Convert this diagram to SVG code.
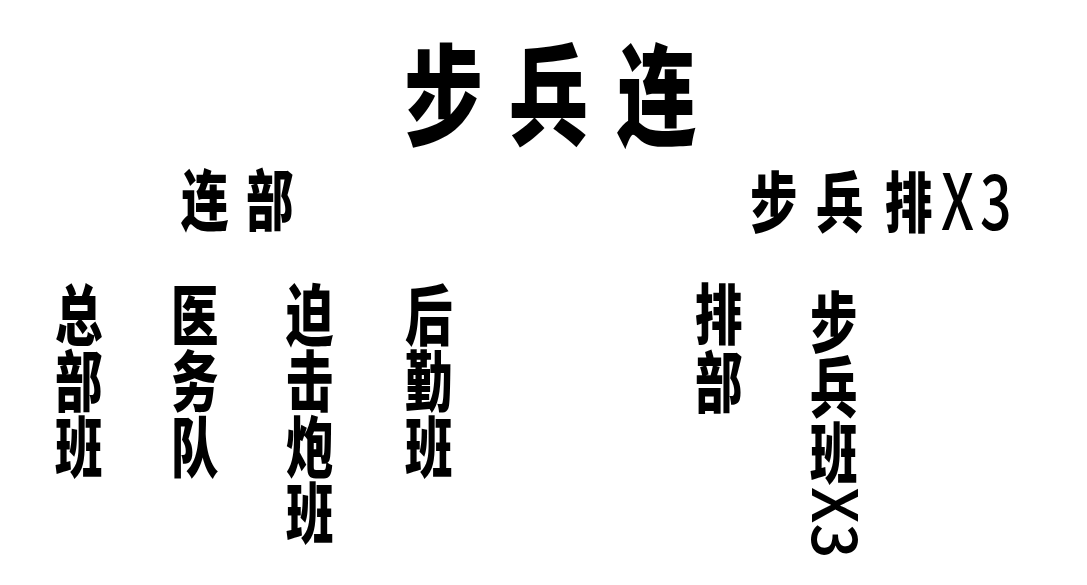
<svg xmlns="http://www.w3.org/2000/svg" width="1087" height="585" viewBox="0 0 1087 585">
<style>
.cjk{font-family:"Noto Sans CJK SC","Noto Sans",sans-serif;font-weight:900;fill:#000}
.lat{font-family:"Noto Sans CJK SC","Noto Sans",sans-serif;font-weight:500;fill:#000}
.t1{font-size:110px}
.t2{font-size:66px}
.t3{font-size:66px}
</style>
<rect width="1087" height="585" fill="#fff"/>
<g id="title">
<text class="cjk t1" transform="translate(404,137) scale(0.72,1)" x="0 145.8 295.8" y="0">步兵连</text>
</g>
<g id="lianbu">
<text class="cjk t2" transform="translate(181,225) scale(0.72,1)" x="0 90.3" y="0">连部</text>
</g>
<g id="paix3">
<text class="cjk t2" transform="translate(750,227) scale(0.72,1)" x="0 91.7 187.5" y="0">步兵排<tspan class="lat" font-size="77" x="265.3 319.4" y="3">X3</tspan></text>
</g>
<g id="zongbuban">
<text class="cjk t3" transform="translate(55,0) scale(0.72,1)" x="0 0 0" y="340 406 472">总部班</text>
</g>
<g id="yiwudui">
<text class="cjk t3" transform="translate(171,0) scale(0.72,1)" x="0 0 0" y="340 406 472">医务队</text>
</g>
<g id="pojipaoban">
<text class="cjk t3" transform="translate(286,0) scale(0.72,1)" x="0 0 0 0" y="340 406 472 538">迫击炮班</text>
</g>
<g id="houqinban">
<text class="cjk t3" transform="translate(405,0) scale(0.72,1)" x="0 0 0" y="340 406 472">后勤班</text>
</g>
<g id="paibu">
<text class="cjk t3" transform="translate(695,0) scale(0.72,1)" x="0 0" y="339 407">排部</text>
</g>
<g id="bubingban">
<text class="cjk t3" transform="translate(810,0) scale(0.72,1)" x="0 0 0" y="347 412 478">步兵班</text>
<text class="lat" font-size="63" transform="translate(812,487) rotate(90) scale(0.97,1)" x="0" y="0">X3</text>
</g>
</svg>
